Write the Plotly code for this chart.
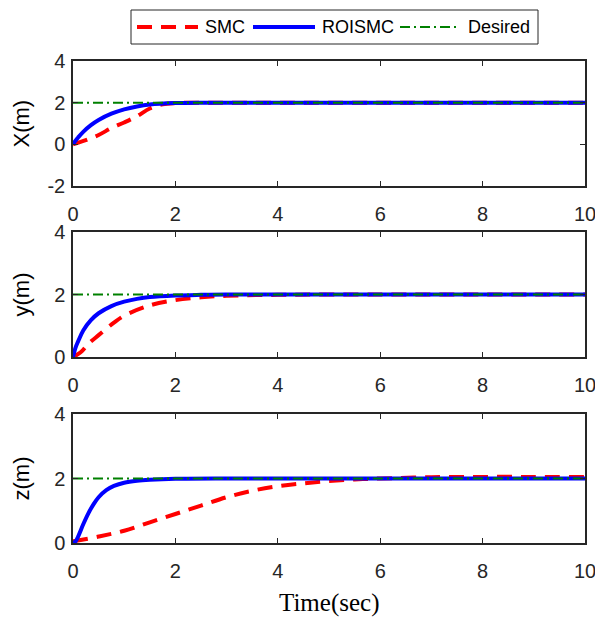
import plotly.graph_objects as go

# ----- data -----
t_x_roi = [0, 0.05, 0.1, 0.2, 0.35, 0.5, 0.75, 1.0, 1.25, 1.5, 2.0, 2.5, 3, 4, 6, 8, 10]
x_roi = [0, 0.18, 0.33, 0.6, 0.92, 1.17, 1.47, 1.68, 1.82, 1.91, 1.98, 2.0, 2.0, 2.0, 2.0, 2.0, 2.0]
t_x_smc = [0, 0.25, 0.5, 0.75, 1.0, 1.25, 1.5, 1.75, 2.0, 2.5, 3, 4, 6, 8, 10]
x_smc = [0, 0.2, 0.45, 0.78, 1.05, 1.35, 1.72, 1.92, 1.98, 2.0, 2.0, 2.0, 2.0, 2.0, 2.0]

t_y_roi = [0, 0.05, 0.1, 0.2, 0.35, 0.5, 0.75, 1.0, 1.25, 1.5, 2.0, 2.5, 3, 4, 6, 8, 10]
y_roi = [0, 0.3, 0.5, 0.85, 1.18, 1.4, 1.63, 1.77, 1.86, 1.92, 1.97, 1.99, 2.0, 2.0, 2.0, 2.0, 2.0]
t_y_smc = [0, 0.15, 0.3, 0.5, 0.8, 1.0, 1.5, 2.0, 2.5, 3, 4, 6, 8, 10]
y_smc = [0, 0.15, 0.42, 0.7, 1.1, 1.32, 1.65, 1.82, 1.91, 1.96, 1.99, 2.0, 2.0, 2.0]

t_z_roi = [0, 0.05, 0.1, 0.2, 0.3, 0.4, 0.5, 0.65, 0.8, 1.0, 1.25, 1.5, 2.0, 3, 4, 6, 8, 10]
z_roi = [0, 0.05, 0.2, 0.58, 0.92, 1.2, 1.42, 1.64, 1.77, 1.87, 1.93, 1.96, 1.99, 2.0, 2.0, 2.0, 2.0, 2.0]
t_z_smc = [0, 0.5, 1.0, 1.5, 2.0, 2.5, 3.0, 3.5, 4.0, 4.5, 5.0, 5.5, 6.0, 7, 8, 9, 10]
z_smc = [0.05, 0.2, 0.38, 0.64, 0.9, 1.16, 1.42, 1.62, 1.76, 1.85, 1.92, 1.97, 2.0, 2.04, 2.05, 2.05, 2.05]

t_des = [0, 10]
desired = [2, 2]

legend_names = ["SMC", "ROISMC", "Desired"]
x_ticks = [0, 2, 4, 6, 8, 10]

panels = [
    ("X(m)", t_x_smc, x_smc, t_x_roi, x_roi, [-2, 4], [-2, 0, 2, 4]),
    ("y(m)", t_y_smc, y_smc, t_y_roi, y_roi, [0, 4], [0, 2, 4]),
    ("z(m)", t_z_smc, z_smc, t_z_roi, z_roi, [0, 4], [0, 2, 4]),
]

# page has an 8px body margin, so the figure is a bit smaller and shifted
OFF = 8
W, H = 603 - OFF, 621 - OFF
# plot area in page pixels: x 73..585, y 61..543
L, R, T, B = 73, 585, 61, 543
def px(x):
    return (x - L) / (R - L)
def py(y):
    return (B - y) / (B - T)

domains = [[py(186), 1.0], [py(357), py(232)], [0.0, py(414)]]

smc_line = dict(color="#ff0000", width=4, dash="15px,9px")
roi_line = dict(color="#0000ff", width=4)
des_line = dict(color="#008000", width=2, dash="10px,4px,2px,4px")

fig = go.Figure()
tick_font = dict(family="Liberation Sans, Arial", size=20, color="#262626")

for i, (lab, ts, ys, tr, yr, yrange, yticks) in enumerate(panels):
    n = "" if i == 0 else str(i + 1)
    xa, ya = "x" + n, "y" + n
    fig.add_trace(go.Scatter(x=ts, y=ys, mode="lines", line_shape="spline", name="SMC",
                             line=smc_line, xaxis=xa, yaxis=ya, showlegend=False))
    fig.add_trace(go.Scatter(x=tr, y=yr, mode="lines", line_shape="spline", name="ROISMC",
                             line=roi_line, xaxis=xa, yaxis=ya, showlegend=False))
    fig.add_trace(go.Scatter(x=t_des, y=desired, mode="lines", name="Desired",
                             line=des_line, xaxis=xa, yaxis=ya, showlegend=False))

    common = dict(showline=True, linecolor="#262626", linewidth=1.5, mirror="ticks",
                  ticks="inside", ticklen=5, tickcolor="#262626", showgrid=False,
                  zeroline=False, tickfont=tick_font, automargin=False)
    fig.layout["xaxis" + n] = dict(common, domain=[0, 1], anchor=ya, range=[0, 10],
                                  tickvals=x_ticks, ticktext=[str(v) for v in x_ticks],
                                  ticklabelstandoff=9)
    fig.layout["yaxis" + n] = dict(common, domain=domains[i], anchor=xa, range=yrange,
                                  tickvals=yticks, ticktext=[str(v) for v in yticks],
                                  ticklabelstandoff=2)
    # y-axis label, centred near x=21px like the reference
    fig.add_annotation(text=lab, textangle=-90, xref="paper", yref="paper",
                       x=px(21), y=sum(domains[i]) / 2, xanchor="center", yanchor="middle",
                       showarrow=False,
                       font=dict(family="Liberation Sans, Arial", size=22, color="#000000"))

fig.add_annotation(text="Time(sec)", xref="paper", yref="paper", x=0.5, y=py(603),
                   xanchor="center", yanchor="middle", showarrow=False,
                   font=dict(family="Liberation Serif, Times New Roman", size=25, color="#000000"))

# legend box drawn like the MATLAB one
fig.add_shape(type="rect", xref="paper", yref="paper", x0=px(131), x1=px(538), y0=py(44), y1=py(10),
              line=dict(color="#262626", width=1), fillcolor="white")
leg_pos = [(137, 198, 203), (253, 315, 320), (400, 460, 466)]
for name, line, (a, b, c) in zip(legend_names, [smc_line, roi_line, des_line], leg_pos):
    fig.add_shape(type="line", xref="paper", yref="paper", x0=px(a), x1=px(b), y0=py(27), y1=py(27),
                  line=line)
    fig.add_annotation(text=name, xref="paper", yref="paper", x=px(c), y=py(27),
                       xanchor="left", yanchor="middle", showarrow=False,
                       font=dict(family="Liberation Sans, Arial", size=18, color="#000000"))

fig.update_layout(
    width=W, height=H,
    margin=dict(l=L - OFF, r=W - (R - OFF), t=T - OFF, b=H - (B - OFF), autoexpand=False),
    paper_bgcolor="white", plot_bgcolor="white",
    showlegend=False,
)

fig.write_html("out.html")
